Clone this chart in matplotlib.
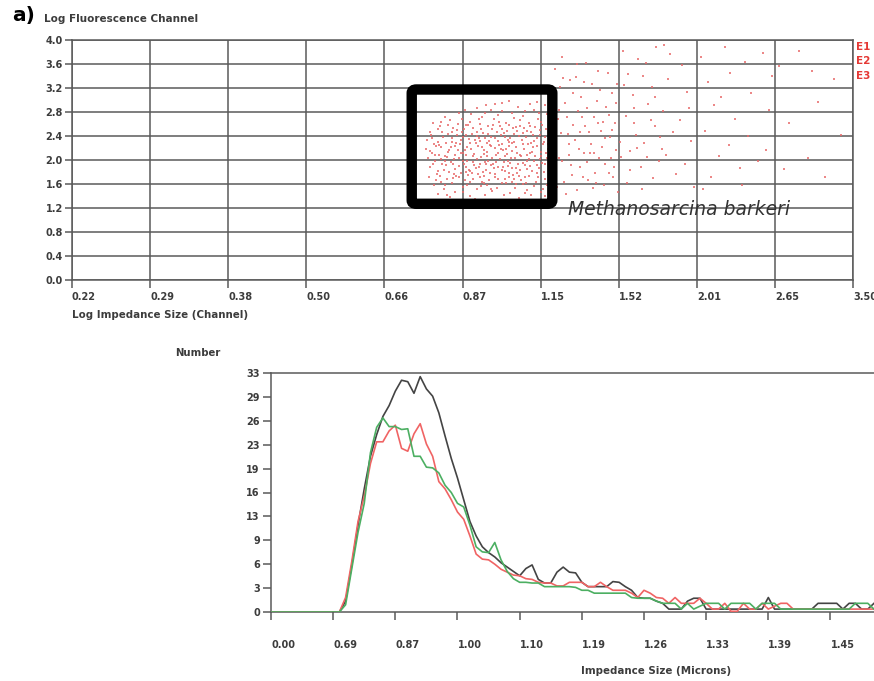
import matplotlib.pyplot as plt
import numpy as np
from matplotlib.patches import FancyBboxPatch

W, H = 874, 681

# ---- top panel: cytogram ----
impedance_channel_labels = ["0.22", "0.29", "0.38", "0.50", "0.66", "0.87",
                            "1.15", "1.52", "2.01", "2.65", "3.50"]
fluorescence_ticks = [0.0, 0.4, 0.8, 1.2, 1.6, 2.0, 2.4, 2.8, 3.2, 3.6, 4.0]
gate_names = ["E1", "E2", "E3"]

# events: (impedance channel position, log fluorescence)
events = [
    (5.42, 2.93), (5.71, 2.88), (5.95, 2.97), (5.18, 2.86), (6.05, 2.91), (5.60, 2.99),
    (4.95, 2.78), (5.25, 2.72), (5.51, 2.81), (5.78, 2.74), (5.92, 2.83), (6.08, 2.76),
    (4.78, 2.71), (5.36, 2.84), (5.66, 2.70), (5.03, 2.83),
    (4.62, 2.61), (4.84, 2.66), (5.07, 2.58), (5.21, 2.68), (5.33, 2.56), (5.47, 2.64),
    (5.59, 2.59), (5.74, 2.67), (5.86, 2.57), (6.01, 2.63), (4.71, 2.56), (4.99, 2.69),
    (5.40, 2.69), (5.69, 2.55), (5.97, 2.69),
    (4.58, 2.47), (4.68, 2.52), (4.81, 2.43), (4.93, 2.50), (5.05, 2.41), (5.14, 2.53),
    (5.26, 2.45), (5.38, 2.51), (5.49, 2.42), (5.57, 2.49), (5.66, 2.44), (5.79, 2.53),
    (5.88, 2.46), (5.99, 2.41), (6.07, 2.52), (4.88, 2.54), (5.19, 2.40), (5.44, 2.47),
    (5.72, 2.40), (5.93, 2.55),
    (4.55, 2.33), (4.64, 2.27), (4.75, 2.38), (4.86, 2.30), (4.97, 2.26), (5.08, 2.35),
    (5.17, 2.29), (5.29, 2.37), (5.35, 2.25), (5.46, 2.32), (5.55, 2.39), (5.63, 2.28),
    (5.76, 2.34), (5.84, 2.27), (5.95, 2.36), (6.04, 2.30), (4.70, 2.25), (5.01, 2.39),
    (5.23, 2.31), (5.51, 2.27), (5.81, 2.39), (6.10, 2.26),
    (4.53, 2.18), (4.61, 2.12), (4.73, 2.21), (4.82, 2.14), (4.91, 2.23), (5.00, 2.11),
    (5.11, 2.19), (5.20, 2.24), (5.31, 2.13), (5.41, 2.20), (5.52, 2.16), (5.60, 2.23),
    (5.70, 2.11), (5.79, 2.18), (5.90, 2.22), (6.00, 2.14), (6.09, 2.19), (4.66, 2.24),
    (4.94, 2.16), (5.15, 2.10), (5.37, 2.24), (5.64, 2.15), (5.86, 2.11),
    (4.56, 2.04), (4.65, 1.98), (4.77, 2.07), (4.85, 1.96), (4.96, 2.03), (5.04, 2.09),
    (5.13, 1.97), (5.24, 2.05), (5.33, 1.99), (5.43, 2.08), (5.53, 1.96), (5.62, 2.03),
    (5.73, 2.09), (5.82, 1.98), (5.93, 2.06), (6.02, 1.95), (4.70, 2.09), (4.89, 2.01),
    (5.18, 2.02), (5.48, 2.01), (5.77, 1.95), (6.08, 2.04),
    (4.59, 1.88), (4.69, 1.82), (4.79, 1.91), (4.90, 1.85), (5.02, 1.93), (5.10, 1.81),
    (5.21, 1.89), (5.30, 1.84), (5.39, 1.94), (5.50, 1.83), (5.58, 1.90), (5.68, 1.86),
    (5.80, 1.92), (5.89, 1.81), (5.98, 1.87), (6.06, 1.93), (4.83, 1.80), (5.26, 1.80),
    (5.45, 1.88), (5.74, 1.83),
    (4.57, 1.72), (4.67, 1.77), (4.80, 1.68), (4.92, 1.74), (5.03, 1.66), (5.12, 1.78),
    (5.22, 1.71), (5.34, 1.67), (5.42, 1.76), (5.54, 1.69), (5.65, 1.75), (5.75, 1.66),
    (5.85, 1.73), (5.96, 1.78), (6.05, 1.68), (4.98, 1.79), (5.28, 1.73), (5.60, 1.79),
    (4.63, 1.58), (4.76, 1.52), (4.87, 1.61), (5.00, 1.55), (5.09, 1.63), (5.19, 1.51),
    (5.32, 1.59), (5.44, 1.54), (5.56, 1.62), (5.67, 1.53), (5.78, 1.60), (5.91, 1.56),
    (6.03, 1.52), (4.72, 1.64), (5.25, 1.64), (5.83, 1.50),
    (4.68, 1.44), (4.84, 1.38), (5.01, 1.46), (5.16, 1.35), (5.29, 1.42), (5.47, 1.33),
    (5.61, 1.45), (5.72, 1.37), (5.88, 1.41), (6.00, 1.47), (4.93, 1.31), (5.38, 1.48),
    (4.87, 2.47), (4.98, 2.33), (5.06, 2.22), (5.12, 2.44), (5.27, 2.16), (5.36, 2.39),
    (5.45, 2.12), (5.53, 2.45), (5.61, 2.36), (5.69, 2.21), (5.83, 2.48), (4.79, 2.28),
    (4.91, 2.08), (5.04, 1.89), (5.14, 2.06), (5.23, 1.94), (5.31, 2.28), (5.40, 1.86),
    (5.49, 2.19), (5.58, 1.99), (5.66, 2.30), (5.75, 2.06), (5.87, 1.90), (5.96, 2.23),
    (4.74, 1.93), (4.83, 2.17), (4.95, 1.71), (5.07, 1.75), (5.17, 1.86), (5.27, 1.62),
    (5.35, 1.79), (5.46, 1.69), (5.55, 1.81), (5.63, 1.64), (5.71, 1.94), (5.81, 1.62),
    (5.92, 1.98), (4.61, 2.37), (4.72, 2.02), (4.88, 1.70), (5.05, 2.58), (5.22, 2.60),
    (5.39, 2.58), (5.56, 2.62), (5.74, 2.57), (5.90, 2.41), (6.03, 2.27), (4.96, 1.90),
    (5.32, 2.07), (5.63, 1.87),
    (4.60, 2.42), (4.73, 2.63), (4.86, 2.36), (4.99, 2.46), (5.10, 2.64), (5.24, 2.52),
    (5.33, 2.44), (5.48, 2.57), (5.58, 2.33), (5.70, 2.48), (5.85, 2.62), (5.99, 2.50),
    (6.06, 2.38), (4.58, 2.15), (4.69, 2.30), (4.80, 2.05), (4.92, 2.29), (5.03, 2.17),
    (5.16, 2.34), (5.25, 2.21), (5.38, 2.03), (5.47, 2.25), (5.57, 2.10), (5.67, 2.04),
    (5.78, 2.27), (5.89, 2.14), (6.01, 2.07), (4.62, 1.93), (4.76, 1.84), (4.88, 1.93),
    (5.00, 1.99), (5.08, 1.84), (5.20, 1.76), (5.30, 1.93), (5.41, 1.72), (5.52, 1.89),
    (5.61, 1.95), (5.72, 1.74), (5.83, 1.85), (5.95, 1.92), (6.04, 1.80), (4.66, 1.66),
    (4.78, 1.59), (4.90, 1.47), (5.06, 1.58), (5.13, 1.69), (5.24, 1.56), (5.36, 1.52),
    (5.50, 1.61), (5.59, 1.71), (5.69, 1.60), (5.80, 1.71), (5.94, 1.63), (6.08, 1.58),
    (4.82, 2.58), (4.94, 2.60), (5.11, 2.76), (5.29, 2.79), (5.45, 2.75), (5.63, 2.79),
    (5.80, 2.81), (5.98, 2.79), (5.30, 2.92), (5.50, 2.95), (5.87, 2.94), (4.74, 2.46),
    (5.02, 2.52), (5.18, 2.47), (5.42, 2.36), (5.65, 2.53), (5.91, 2.31), (4.65, 2.08),
    (4.98, 2.12), (5.28, 2.10), (5.56, 2.18), (5.85, 2.01), (6.07, 2.12), (4.71, 1.74),
    (5.05, 1.80), (5.37, 1.91), (5.66, 1.68), (5.97, 1.72), (4.80, 1.42), (5.10, 1.40),
    (5.53, 1.41), (5.80, 1.45), (6.05, 1.40), (4.93, 2.42), (5.21, 2.37), (5.51, 2.52),
    (5.77, 2.45), (6.02, 2.59), (4.85, 2.22), (5.09, 2.28), (5.34, 2.32), (5.60, 2.30),
    (5.88, 2.28), (4.77, 1.99), (5.06, 1.98), (5.29, 1.97), (5.54, 2.06), (5.83, 2.08),
    (4.89, 1.77), (5.15, 1.92), (5.43, 1.97), (5.70, 1.78), (5.99, 2.02),
    (6.18, 3.52), (6.25, 3.21), (6.31, 2.95), (6.22, 2.68), (6.35, 2.43), (6.19, 2.21),
    (6.28, 1.98), (6.40, 1.75), (6.21, 1.55), (6.33, 1.44), (6.45, 3.38), (6.52, 3.05),
    (6.48, 2.82), (6.57, 2.57), (6.44, 2.33), (6.55, 2.11), (6.50, 1.88), (6.61, 1.66),
    (6.47, 1.50), (6.58, 3.62), (6.66, 3.27), (6.72, 2.99), (6.68, 2.71), (6.77, 2.49),
    (6.64, 2.27), (6.75, 2.03), (6.70, 1.79), (6.81, 1.58), (6.86, 3.45), (6.92, 3.12),
    (6.84, 2.88), (6.95, 2.62), (6.89, 2.39), (6.97, 2.17), (6.83, 1.93), (6.93, 1.71),
    (6.99, 1.47), (6.27, 3.71), (6.38, 3.34), (6.42, 2.58), (6.36, 2.08), (6.62, 2.46),
    (6.79, 2.21), (6.24, 2.84), (6.53, 2.71), (6.74, 3.48), (6.90, 2.03), (6.30, 1.63),
    (6.60, 1.97), (6.88, 2.75), (6.17, 3.05), (6.41, 3.12), (6.56, 3.30), (6.69, 2.12),
    (6.94, 1.88), (6.26, 2.45), (6.49, 2.19), (6.71, 1.62), (6.80, 2.64), (6.98, 3.26),
    (6.14, 2.92), (6.20, 2.51), (6.23, 2.03), (6.16, 1.78), (6.29, 3.37), (6.34, 2.71),
    (6.37, 2.26), (6.39, 1.91), (6.46, 3.60), (6.51, 2.47), (6.54, 1.72), (6.59, 2.86),
    (6.63, 2.12), (6.67, 1.53), (6.73, 2.61), (6.76, 3.16), (6.82, 2.37), (6.87, 1.79),
    (6.91, 2.50), (6.96, 2.95), (7.03, 2.05), (7.07, 3.25), (7.14, 1.84), (7.19, 2.87),
    (7.24, 2.20), (7.31, 3.40), (7.36, 2.05), (7.41, 2.67), (7.46, 3.05), (7.53, 2.39),
    (7.05, 3.82), (7.12, 3.44), (7.18, 3.08), (7.09, 2.74), (7.22, 2.41), (7.15, 2.15),
    (7.28, 1.89), (7.11, 1.62), (7.35, 3.61), (7.42, 3.22), (7.38, 2.93), (7.47, 2.56),
    (7.33, 2.28), (7.51, 1.98), (7.44, 1.70), (7.58, 3.92), (7.63, 3.35), (7.57, 2.81),
    (7.69, 2.47), (7.61, 2.09), (7.74, 1.77), (7.81, 3.58), (7.88, 3.14), (7.79, 2.66),
    (7.92, 2.31), (7.85, 1.94), (7.96, 1.55), (7.25, 3.68), (7.48, 3.89), (7.66, 3.76),
    (7.20, 2.62), (7.55, 2.19), (7.90, 2.86), (7.02, 2.30), (7.30, 1.52),
    (8.05, 3.71), (8.14, 3.30), (8.22, 2.92), (8.11, 2.48), (8.28, 2.07), (8.18, 1.71),
    (8.36, 3.88), (8.43, 3.45), (8.49, 2.69), (8.41, 2.25), (8.55, 1.86), (8.62, 3.63),
    (8.70, 3.12), (8.66, 2.40), (8.78, 1.98), (8.85, 3.79), (8.92, 2.83), (8.88, 2.16),
    (8.31, 3.05), (8.58, 1.58), (8.96, 3.40), (8.08, 1.52),
    (9.05, 3.57), (9.18, 2.62), (9.31, 3.82), (9.42, 2.03), (9.55, 2.96), (9.64, 1.72),
    (9.76, 3.35), (9.12, 1.85), (9.48, 3.48), (9.85, 2.42),
]

# gate drawn round the main population (channel position / log fluorescence)
gate_x0, gate_x1 = 4.35, 6.15
gate_y0, gate_y1 = 1.27, 3.175

# ---- bottom panel: size histograms ----
size_labels = ["0.00", "0.69", "0.87", "1.00", "1.10", "1.19", "1.26", "1.33", "1.39", "1.45"]
count_labels = ["0", "3", "6", "9", "13", "16", "19", "23", "26", "29", "33"]

counts_black = [0] * 12 + [
    1.5, 6.5, 12, 17, 21.5, 24.5, 27, 28.5, 30.5, 32, 31.8, 30.2, 32.5, 30.8, 29.8, 27.5,
    24.3, 21.2, 18.5, 15.5, 12.5, 10.5, 9, 8.2, 7.6, 6.8, 6.2, 5.6, 5, 6, 6.5, 4.5,
    4, 4, 5.5, 6.2, 5.5, 5.4, 4.1, 3.5, 3.5, 3.5, 3.5, 4.2, 4.1, 3.5, 3, 2, 1.9, 1.9,
    1.5, 1.2, 0.4, 0.4, 0.4, 1.5, 1.9, 1.9, 0.4, 0.4, 0.4, 0.4, 0.4, 0.4, 0.4, 0.4,
    0.4, 0.4, 2, 0.4, 0.4, 0.4, 0.4, 0.4, 0.4, 0.4, 1.2, 1.2, 1.2, 1.2, 0.4, 1.2,
    1.2, 0.4, 0.4, 1.2]
counts_red = [0] * 12 + [
    2, 7, 12.5, 16, 20.5, 23.5, 23.5, 25, 25.8, 22.6, 22.2, 24.6, 26, 23.2, 21.5, 18,
    17, 15.5, 13.8, 12.8, 10.5, 8, 7.3, 7.2, 6.6, 5.9, 5.5, 5.1, 5, 4.6, 4.5, 4.1,
    4, 4, 3.6, 3.6, 4.1, 4.1, 4.1, 3.5, 3.5, 4.1, 3.5, 3, 3, 3, 2.6, 2, 3, 2.6,
    2, 1.9, 1.2, 2, 1.2, 1.2, 1.2, 1.9, 1.2, 0.4, 0.4, 1.2, 0.1, 0.1, 1.2, 0.4,
    0.4, 1.2, 0.4, 0.8, 1.2, 1.2, 0.4, 0.4, 0.4, 0.4, 0.4, 0.4, 0.4, 0.4, 0.4, 0.4,
    0.4, 0.4, 0.4, 0.4]
counts_green = [0] * 12 + [
    1, 6, 11, 15, 22, 25.5, 26.8, 25.6, 25.6, 25.2, 25.3, 21.5, 21.5, 20, 19.9, 19.2,
    17.5, 16.5, 15, 14.5, 12, 9, 8.3, 8.2, 9.6, 7.2, 5.6, 4.6, 4.1, 4.1, 4, 4,
    3.5, 3.5, 3.5, 3.5, 3.5, 3.4, 3, 3, 2.6, 2.6, 2.6, 2.6, 2.6, 2.6, 2, 1.9, 1.9, 1.9,
    1.5, 1.2, 1.2, 1.2, 0.4, 1.2, 0.4, 0.8, 1.2, 1.2, 1.2, 0.4, 1.2, 1.2, 1.2, 1.2,
    0.4, 1.2, 1.2, 1.2, 0.4, 0.4, 0.4, 0.4, 0.4, 0.4, 0.4, 0.4, 0.4, 0.4, 0.4, 0.4,
    1.2, 1.2, 1.2, 0.4]

TXT = "#3c3c3c"
GRID = "#5a5a5a"
plt.rcParams["font.family"] = "DejaVu Sans"


def fx(px):
    return px / W


def fy(py):
    return 1 - py / H


fig = plt.figure(figsize=(W / 100, H / 100), dpi=100)

# top cytogram
ax1 = fig.add_axes([fx(72), fy(280), fx(853) - fx(72), fy(40) - fy(280)])
ax1.set_xlim(0, 10)
ax1.set_ylim(0, 4)
ax1.set_xticks(range(11))
ax1.set_xticklabels(impedance_channel_labels)
ax1.set_yticks(fluorescence_ticks)
ax1.set_yticklabels([f"{v:.1f}" for v in fluorescence_ticks])
ax1.grid(True, color=GRID, lw=1.1)
ax1.set_axisbelow(True)
for s in ax1.spines.values():
    s.set_color(GRID)
    s.set_linewidth(1.1)
ax1.tick_params(axis="x", direction="out", length=6, width=1.1, color=GRID,
                labelsize=7, labelcolor=TXT, pad=3)
ax1.tick_params(axis="y", direction="out", length=5, width=1.1, color=GRID,
                labelsize=7, labelcolor=TXT, pad=1.5)
for lab in ax1.get_xticklabels() + ax1.get_yticklabels():
    lab.set_fontweight("bold")
for lab in ax1.get_xticklabels():
    lab.set_ha("left")

ev_x, ev_y = zip(*events)
ax1.scatter(ev_x, ev_y, s=4, marker="s", color="#e86a6a", alpha=0.8,
            linewidths=0, zorder=3)

gate = FancyBboxPatch((gate_x0, gate_y0), gate_x1 - gate_x0, gate_y1 - gate_y0,
                      boxstyle="round,pad=0,rounding_size=0.06",
                      lw=7.5, ec="black", fc="none", zorder=4)
ax1.add_patch(gate)
ax1.text(6.35, 1.18, "Methanosarcina barkeri", fontsize=13.5, style="italic",
         color="#333333", va="center", ha="left", zorder=5)

for i, name in enumerate(gate_names):
    fig.text(fx(856), fy(47 + 14.5 * i), name, fontsize=7.5, fontweight="bold",
             color="#e53935", va="center", ha="left")

fig.text(fx(12), fy(15), "a)", fontsize=14.5, fontweight="bold", color="black",
         va="center", ha="left")
fig.text(fx(44), fy(19), "Log Fluorescence Channel", fontsize=7.5, fontweight="bold",
         color=TXT, va="center", ha="left")
fig.text(fx(72), fy(315), "Log Impedance Size (Channel)", fontsize=7.4,
         fontweight="bold", color=TXT, va="center", ha="left")

# bottom histogram
ax2 = fig.add_axes([fx(271), fy(612), fx(874) - fx(271), fy(373) - fy(612)])
channel = np.arange(len(counts_black)) * 0.1
ax2.plot(channel, counts_black, color="#444444", lw=1.2, zorder=3)
ax2.plot(channel, counts_red, color="#f06464", lw=1.2, zorder=4)
ax2.plot(channel, counts_green, color="#4caf62", lw=1.2, zorder=5)
ax2.set_xlim(0, 9.7)
ax2.set_ylim(0, 33)
ax2.set_xticks(range(10))
ax2.set_xticklabels(size_labels)
ax2.set_yticks(np.linspace(0, 33, 11))
ax2.set_yticklabels(count_labels)
ax2.spines["right"].set_visible(False)
for s in ["left", "bottom", "top"]:
    ax2.spines[s].set_color(GRID)
    ax2.spines[s].set_linewidth(1.1)
ax2.tick_params(axis="x", direction="out", length=6, width=1.1, color=GRID,
                labelsize=7, labelcolor=TXT, pad=14)
ax2.tick_params(axis="y", direction="out", length=6, width=1.1, color=GRID,
                labelsize=7, labelcolor=TXT, pad=2)
for lab in ax2.get_xticklabels() + ax2.get_yticklabels():
    lab.set_fontweight("bold")
for lab in ax2.get_xticklabels():
    lab.set_ha("left")

fig.text(fx(175), fy(353), "Number", fontsize=7.3, fontweight="bold", color=TXT,
         va="center", ha="left")
fig.text(fx(581), fy(671), "Impedance Size (Microns)", fontsize=7.4,
         fontweight="bold", color=TXT, va="center", ha="left")

fig.savefig("out.png", dpi=100)
